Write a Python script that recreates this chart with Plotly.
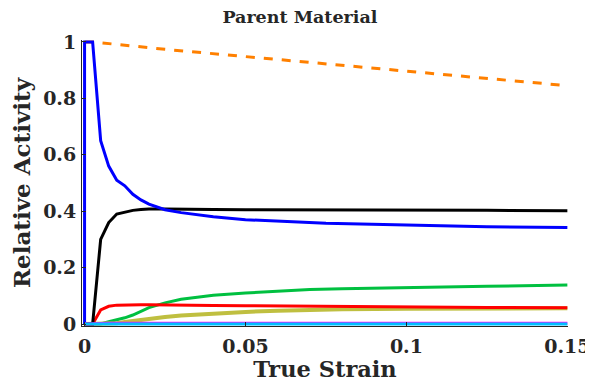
import plotly.graph_objects as go

# strain sample points
x_blue = [0, 0, 0.0025, 0.005, 0.0075, 0.01, 0.0125, 0.015, 0.0175, 0.02, 0.025, 0.03, 0.04, 0.05, 0.075, 0.1, 0.125, 0.15]
y_blue = [0, 1, 1, 0.65, 0.56, 0.51, 0.49, 0.46, 0.44, 0.425, 0.405, 0.395, 0.38, 0.37, 0.357, 0.35, 0.345, 0.342]

x_common = [0, 0.0025, 0.005, 0.0075, 0.01, 0.0125, 0.015, 0.0175, 0.02, 0.025, 0.03, 0.035, 0.04, 0.05, 0.06, 0.07, 0.08, 0.1, 0.125, 0.15]
y_black = [0, 0, 0.30, 0.36, 0.39, 0.397, 0.403, 0.406, 0.408, 0.408, 0.408, 0.407, 0.406, 0.405, 0.405, 0.404, 0.404, 0.403, 0.403, 0.402]
y_green = [0, 0, 0, 0.008, 0.015, 0.022, 0.032, 0.045, 0.058, 0.075, 0.088, 0.095, 0.102, 0.11, 0.117, 0.122, 0.125, 0.13, 0.134, 0.138]
y_red = [0, 0, 0.05, 0.063, 0.067, 0.068, 0.068, 0.068, 0.068, 0.067, 0.067, 0.066, 0.066, 0.065, 0.064, 0.064, 0.063, 0.061, 0.059, 0.058]
y_olive = [0, 0, 0, 0, 0.003, 0.007, 0.011, 0.015, 0.019, 0.025, 0.03, 0.034, 0.038, 0.043, 0.047, 0.05, 0.052, 0.054, 0.055, 0.056]
y_magenta = [0, 0, 0.002, 0.003, 0.003, 0.003, 0.003, 0.003, 0.003, 0.003, 0.003, 0.003, 0.003, 0.003, 0.003, 0.003, 0.003, 0.003, 0.003, 0.003]
y_cyan = [0] * len(x_common)

x_orange = [0, 0.0025, 0.025, 0.05, 0.075, 0.1, 0.125, 0.15]
y_orange = [1, 1, 0.974, 0.948, 0.922, 0.896, 0.870, 0.845]

x_ticks = [0, 0.05, 0.1, 0.15]
x_tick_labels = ["0", "0.05", "0.1", "0.15"]
y_ticks = [0, 0.2, 0.4, 0.6, 0.8, 1]
y_tick_labels = ["0", "0.2", "0.4", "0.6", "0.8", "1"]

fig = go.Figure()
W = 3
fig.add_trace(go.Scatter(x=x_orange, y=y_orange, mode="lines", line=dict(color="#FF8000", width=W, dash="dash")))
fig.add_trace(go.Scatter(x=x_common, y=y_green, mode="lines", line=dict(color="#00C040", width=W)))
fig.add_trace(go.Scatter(x=x_common, y=y_olive, mode="lines", line=dict(color="#BFBF40", width=W + 1)))
fig.add_trace(go.Scatter(x=x_common, y=y_red, mode="lines", line=dict(color="#FF0000", width=W)))
fig.add_trace(go.Scatter(x=x_common, y=y_black, mode="lines", line=dict(color="#000000", width=W)))
fig.add_trace(go.Scatter(x=x_blue, y=y_blue, mode="lines", line=dict(color="#0000FF", width=W)))
fig.add_trace(go.Scatter(x=x_common, y=y_magenta, mode="lines", line=dict(color="#FF00FF", width=W)))
fig.add_trace(go.Scatter(x=x_common, y=y_cyan, mode="lines", line=dict(color="#00BFFF", width=W)))

font_family = "DejaVu Serif"
# page has an 8px body margin, so the figure is smaller and offset
fig.update_layout(
    width=585, height=374,
    margin=dict(l=74, r=25, t=32, b=56),
    plot_bgcolor="white", paper_bgcolor="white",
    showlegend=False,
    title=dict(text="<b>Parent Material</b>", x=0.499, xanchor="center", y=0.976, yanchor="middle",
               font=dict(family=font_family, size=17.5, color="#262626")),
    xaxis=dict(range=[-0.0008, 0.1502], tickvals=x_ticks, ticktext=[f"<b>{t}</b>" for t in x_tick_labels],
               showgrid=False, zeroline=False, showline=True, linecolor="#262626", linewidth=1,
               ticks="inside", ticklen=4, tickcolor="#262626", automargin=False,
               ticklabelstandoff=3, ticklabeloverflow="allow",
               tickfont=dict(family=font_family, size=19, color="#262626"),
               title=dict(text="<b>True Strain</b>", font=dict(family=font_family, size=22.5, color="#262626"), standoff=4)),
    yaxis=dict(range=[-0.007, 1.007], tickvals=y_ticks, ticktext=[f"<b>{t}</b>" for t in y_tick_labels],
               showgrid=False, zeroline=False, showline=True, linecolor="#262626", linewidth=1,
               ticks="inside", ticklen=4, tickcolor="#262626", automargin=False,
               ticklabelstandoff=1,
               tickfont=dict(family=font_family, size=19, color="#262626"),
               title=dict(text="<b>Relative Activity</b>", font=dict(family=font_family, size=23, color="#262626"), standoff=6)),
)

fig.write_html("out.html")
